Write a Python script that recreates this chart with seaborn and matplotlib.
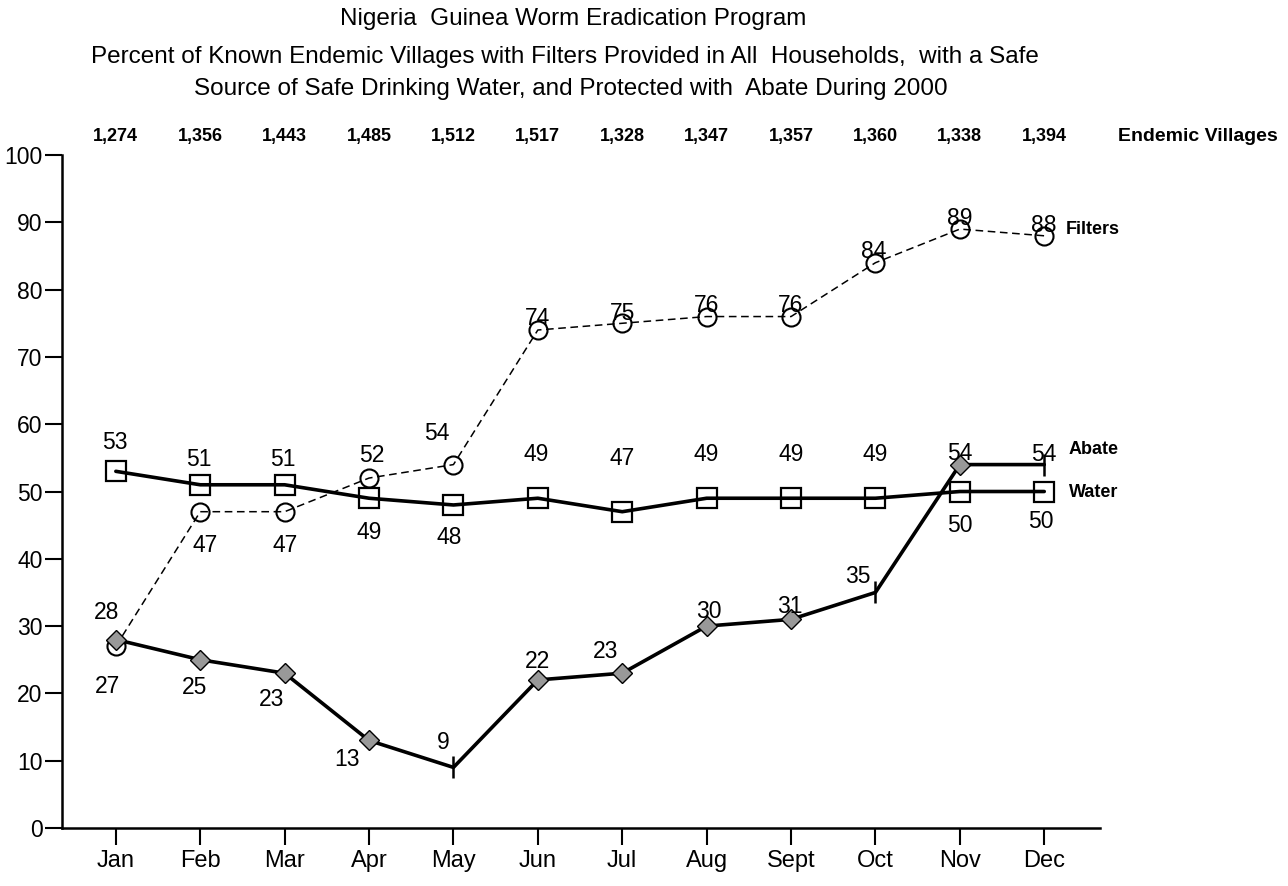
import numpy as np
import seaborn as sns
import matplotlib.pyplot as plt
import matplotlib.transforms as mtrans

# data
months = ['Jan', 'Feb', 'Mar', 'Apr', 'May', 'Jun', 'Jul', 'Aug', 'Sept', 'Oct', 'Nov', 'Dec']
villages = ['1,274', '1,356', '1,443', '1,485', '1,512', '1,517', '1,328',
            '1,347', '1,357', '1,360', '1,338', '1,394']
filters = [27, 47, 47, 52, 54, 74, 75, 76, 76, 84, 89, 88]
water = [53, 51, 51, 49, 48, 49, 47, 49, 49, 49, 50, 50]
abate = [28, 25, 23, 13, 9, 22, 23, 30, 31, 35, 54, 54]

# label offsets (pixels: dx, dy) for each series
off_filters = [(-8, -40), (5, -34), (0, -34), (3, 23), (-17, 31), (0, 12),
               (0, 10), (0, 11), (0, 11), (-2, 11), (0, 11), (0, 10)]
off_water = [(-1, 29), (-1, 25), (-2, 25), (0, -34), (-4, -33), (-2, 44),
             (0, 53), (0, 44), (0, 44), (0, 44), (0, -34), (-3, -30)]
off_abate = [(-9, 27), (-6, -28), (-13, -26), (-22, -19), (-10, 25), (0, 18),
             (-17, 22), (2, 15), (-1, 13), (-18, 16), (0, 11), (0, 10)]
abate_tick = [4, 9, 11]  # months drawn with a tick instead of a diamond

sns.set_theme(style="white")
plt.rcParams['font.family'] = ['Liberation Sans', 'DejaVu Sans']
plt.rcParams['text.color'] = 'black'

fig = plt.figure(figsize=(12.88, 8.86), dpi=100)
ax = fig.add_axes([0.048, 0.0655, 0.806, 0.7595])

x = np.arange(len(months))

# filters: thin dashed line, open circles
sns.lineplot(x=x, y=filters, ax=ax, color='black', lw=1.1, linestyle=(0, (5, 3)),
             marker='o', markersize=13, markerfacecolor='none',
             markeredgecolor='black', markeredgewidth=1.5, zorder=2)
# water: thick line, open squares
sns.lineplot(x=x, y=water, ax=ax, color='black', lw=2.6, marker='s',
             markersize=15, markerfacecolor='none', markeredgecolor='black',
             markeredgewidth=1.6, zorder=3)
# abate: thick line, grey diamonds
diam = [i for i in range(len(months)) if i not in abate_tick]
sns.lineplot(x=x, y=abate, ax=ax, color='black', lw=2.6, marker='D',
             markersize=10.5, markerfacecolor='#999999', markeredgecolor='black',
             markeredgewidth=1.0, markevery=diam, zorder=4)
ax.plot(x[abate_tick], np.array(abate)[abate_tick], linestyle='none',
        marker='|', markersize=16, markeredgewidth=1.8, color='black', zorder=4)

# value labels
def put_labels(vals, offs):
    for i, (v, (dx, dy)) in enumerate(zip(vals, offs)):
        ax.annotate(str(v), (i, v), xytext=(dx / 1.389, dy / 1.389),
                    textcoords='offset points', ha='center', va='center',
                    fontsize=16.5, color='black', zorder=5)

put_labels(filters, off_filters)
put_labels(water, off_water)
put_labels(abate, off_abate)

# series names on the right
ax.text(11.25, 89, 'Filters', fontsize=13, fontweight='bold', va='center')
ax.text(11.29, 56.2, 'Abate', fontsize=13, fontweight='bold', va='center')
ax.text(11.29, 49.8, 'Water', fontsize=13, fontweight='bold', va='center')

# endemic villages row
trans = mtrans.blended_transform_factory(ax.transData, ax.transAxes)
for i, s in enumerate(villages):
    ax.text(i, 1.027, s, transform=trans, ha='center', va='center',
            fontsize=13, fontweight='bold')
ax.text(12.82, 1.027, 'Endemic Villages', transform=trans, ha='center',
        va='center', fontsize=14, fontweight='bold')

# axes
ax.set_xlim(-0.64, 11.66)
ax.set_ylim(0, 100)
ax.set_xticks(x)
ax.set_xticklabels(months, fontsize=17)
ax.set_yticks(range(0, 101, 10))
ax.set_yticklabels([str(v) for v in range(0, 101, 10)], fontsize=16.5)
ax.tick_params(axis='both', direction='out', length=12, width=1.5,
               color='black', labelcolor='black', bottom=True, left=True)
ax.tick_params(axis='x', pad=4)
ax.tick_params(axis='y', pad=2)
sns.despine(ax=ax)
for side in ['left', 'bottom']:
    ax.spines[side].set_color('black')
    ax.spines[side].set_linewidth(1.8)
ax.set_xlabel('')
ax.set_ylabel('')

# titles
fig.text(0.445, 0.979, 'Nigeria  Guinea Worm Eradication Program',
         ha='center', va='center', fontsize=17.5)
fig.text(0.439, 0.936, 'Percent of Known Endemic Villages with Filters Provided in All  Households,  with a Safe',
         ha='center', va='center', fontsize=17.5)
fig.text(0.443, 0.899, 'Source of Safe Drinking Water, and Protected with  Abate During 2000',
         ha='center', va='center', fontsize=17.5)

fig.savefig('out.png', dpi=100)
